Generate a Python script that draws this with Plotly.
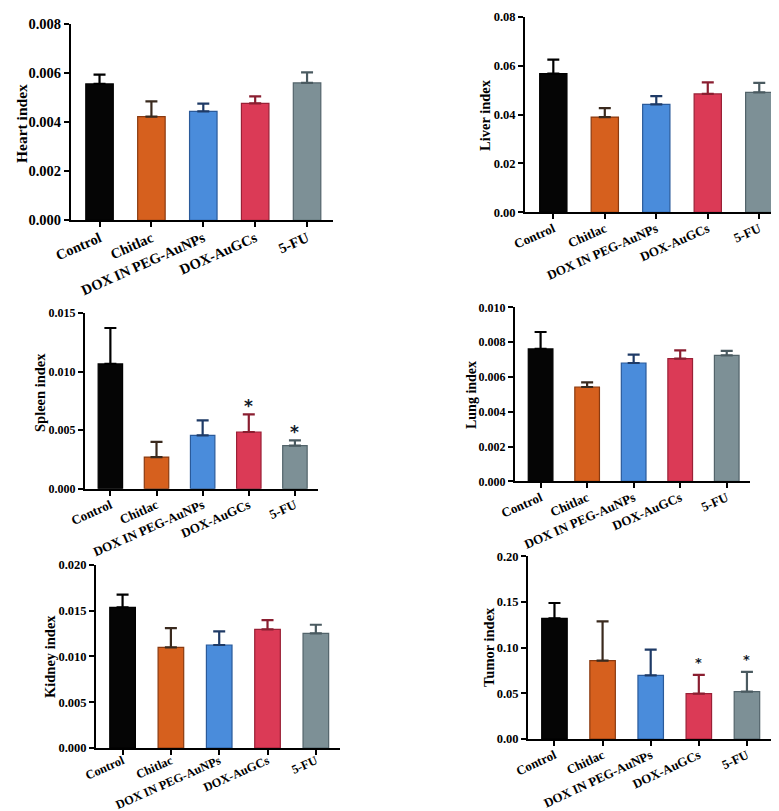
import plotly.graph_objects as go

W, H = 779, 811

categories = ["Control", "Chitlac", "DOX IN PEG-AuNPs", "DOX-AuGCs", "5-FU"]

heart_vals = [0.00555, 0.00422, 0.00443, 0.00476, 0.00559]
heart_err = [0.00038, 0.00062, 0.00032, 0.00028, 0.00043]
heart_sig = ["", "", "", "", ""]

liver_vals = [0.0568, 0.0390, 0.0442, 0.0485, 0.0491]
liver_err = [0.0057, 0.0037, 0.0034, 0.0047, 0.0039]
liver_sig = ["", "", "", "", ""]

spleen_vals = [0.01065, 0.00270, 0.00455, 0.00484, 0.00367]
spleen_err = [0.00307, 0.00129, 0.00129, 0.00151, 0.00046]
spleen_sig = ["", "", "", "*", "*"]

lung_vals = [0.00761, 0.00542, 0.00680, 0.00705, 0.00724]
lung_err = [0.00097, 0.00027, 0.00048, 0.00048, 0.00025]
lung_sig = ["", "", "", "", ""]

kidney_vals = [0.01535, 0.01098, 0.01124, 0.01295, 0.01251]
kidney_err = [0.00138, 0.00211, 0.00149, 0.00101, 0.00094]
kidney_sig = ["", "", "", "", ""]

tumor_vals = [0.1321, 0.0858, 0.0697, 0.0496, 0.0518]
tumor_err = [0.0168, 0.0430, 0.0281, 0.0205, 0.0216]
tumor_sig = ["", "", "", "*", "*"]

y_titles = ["Heart index", "Liver index", "Spleen index", "Lung index", "Kidney index", "Tumor index"]
y_max = [0.008, 0.08, 0.015, 0.010, 0.020, 0.20]
y_dtick = [0.002, 0.02, 0.005, 0.002, 0.005, 0.05]
y_fmt = [".3f", ".2f", ".3f", ".3f", ".3f", ".2f"]

fill_colors = ["#050505", "#D6601E", "#4A8CDB", "#DB3A56", "#7D9096"]
line_colors = ["#000000", "#8A3A10", "#2A5A9A", "#9A2036", "#52636A"]
err_colors = ["#000000", "#3A2A1E", "#1E3A66", "#8A1E30", "#4A5A60"]

panels = [
    dict(vals=heart_vals, err=heart_err, sig=heart_sig),
    dict(vals=liver_vals, err=liver_err, sig=liver_sig),
    dict(vals=spleen_vals, err=spleen_err, sig=spleen_sig),
    dict(vals=lung_vals, err=lung_err, sig=lung_sig),
    dict(vals=kidney_vals, err=kidney_err, sig=kidney_sig),
    dict(vals=tumor_vals, err=tumor_err, sig=tumor_sig),
]

# layout geometry in pixels: axis-left x, axis-right x, top-tick y, zero y
geom = [
    (63, 325, 15.7, 212.3),
    (517, 777, 9.0, 204.3),
    (77, 310, 305.0, 480.7),
    (507, 742, 299.3, 473.3),
    (88, 332, 556.7, 740.0),
    (520, 763, 548.3, 731.0),
]
title_pos = [(13, 116), (477, 107), (32, 384), (463, 387), (42, 649), (481, 639)]
tick_fs = [14.5, 12.5, 12, 12, 12.5, 12.5]
cat_fs = [14.5, 13, 13, 13, 12.3, 12.8]
cat_angle = [-24, -24, -24, -24, -24, -25]
cat_standoff = [-3, -3, -3, -3, -6, -3]
title_fs = [15.5, 14.5, 14.5, 14, 14.5, 14.5]
star_fs = [16, 16, 17, 16, 16, 13]
star_gap = [0, 0, -4, 0, 0, 3]

FONT = "Liberation Serif, Times New Roman, serif"

fig = go.Figure()
annotations = []
layout_axes = {}

for i, p in enumerate(panels):
    n = i + 1
    xa = "x" if n == 1 else f"x{n}"
    ya = "y" if n == 1 else f"y{n}"
    x0, x1, yt, yb = geom[i]
    for j, c in enumerate(categories):
        fig.add_trace(go.Bar(
            x=[c], y=[p["vals"][j]], xaxis=xa, yaxis=ya,
            width=0.53,
            marker=dict(color=fill_colors[j], line=dict(color=line_colors[j], width=1.2)),
            error_y=dict(type="data", symmetric=False, array=[p["err"][j]], arrayminus=[0],
                         color=err_colors[j], thickness=2.2, width=6),
            showlegend=False, hoverinfo="skip",
        ))
        if p["sig"][j]:
            annotations.append(dict(
                x=c, y=p["vals"][j] + p["err"][j], xref=xa, yref=ya,
                text="<b>" + p["sig"][j] + "</b>", showarrow=False,
                yanchor="bottom", yshift=star_gap[i],
                font=dict(family="DejaVu Sans", size=star_fs[i], color="#111a2a"),
            ))
    xkey = "xaxis" if n == 1 else f"xaxis{n}"
    ykey = "yaxis" if n == 1 else f"yaxis{n}"
    layout_axes[xkey] = dict(
        domain=[x0 / W, x1 / W], anchor=ya, type="category",
        categoryorder="array", categoryarray=categories, automargin=False,
        range=[-0.55, 4.5], showline=True, linecolor="black", linewidth=2,
        ticks="outside", ticklen=5, tickwidth=2, tickcolor="black",
        tickangle=cat_angle[i], showgrid=False, zeroline=False,
        ticklabelstandoff=cat_standoff[i],
        tickfont=dict(family=FONT, size=cat_fs[i], color="black", weight="bold"),
    )
    layout_axes[ykey] = dict(
        domain=[1 - yb / H, 1 - yt / H], anchor=xa, automargin=False,
        range=[0, y_max[i]], dtick=y_dtick[i], tick0=0, tickformat=y_fmt[i],
        showline=True, linecolor="black", linewidth=2,
        ticks="outside", ticklen=5, tickwidth=2, tickcolor="black",
        showgrid=False, zeroline=False,
        tickfont=dict(family=FONT, size=tick_fs[i], color="black", weight="bold"),
    )
    tx, ty = title_pos[i]
    annotations.append(dict(
        x=tx / W, y=1 - ty / H, xref="paper", yref="paper",
        text="<b>" + y_titles[i] + "</b>", textangle=-90, showarrow=False,
        xanchor="center", yanchor="middle",
        font=dict(family=FONT, size=title_fs[i], color="black"),
    ))

fig.update_layout(
    width=W, height=H, margin=dict(l=0, r=0, t=0, b=0),
    paper_bgcolor="white", plot_bgcolor="white",
    annotations=annotations, bargap=0.2,
    **layout_axes,
)

fig.write_html("out.html")
